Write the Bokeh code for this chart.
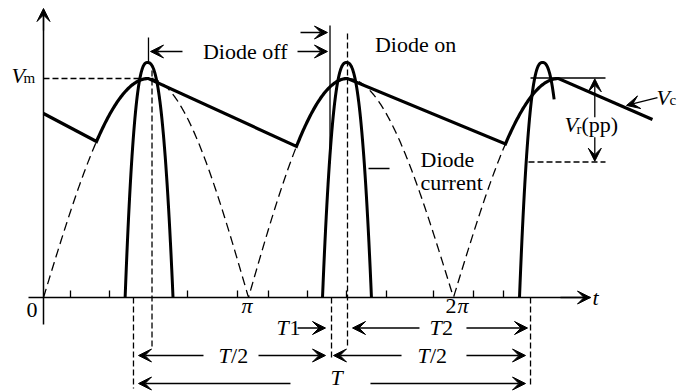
import numpy as np
from bokeh.plotting import figure
from bokeh.models import (Range1d, LinearAxis, FixedTicker, Arrow, VeeHead,
                          ColumnDataSource)
from bokeh.core.properties import value
from bokeh.embed import file_html
from bokeh.resources import INLINE

PI = np.pi

# ---- data (t in radians, v in units of Vm) ----
sine_zeros = [0.0, PI, 2 * PI, 3 * PI]          # rectified input zero crossings
sine_peaks = [1.609, 4.659, 7.893]              # rectified input peaks
Vm = 1.0

cap_start = [0.0, 0.840]                        # capacitor voltage at t=0
cap_trough_t = [0.812, 3.877, 7.080]            # diode turns on
cap_end = [9.333, 0.813]                        # last point of Vc
dashed_end_t = 7.080                            # dashed input drawn up to here

pulse_left = [1.251, 4.276, 7.295]              # diode current pulses
pulse_peak = [1.594, 4.644, 7.647]
pulse_right = [1.985, 5.026, 8.022]
pulse_height = 1.073
pulse_right_stop = [0.0, 0.0, 0.843]            # fraction where right flank stops

minor_ticks = [0.414, 1.011, 2.207, 2.973, 3.448, 4.046, 4.644, 5.257,
               5.977, 6.590, 7.050]

FONT = value("Liberation Serif")
BIG = 0.0365    # baseline correction for 22px text (data units)
SMALL = 0.025   # baseline correction for 15px text


def rect_sine(t):
    t = np.atleast_1d(np.asarray(t, dtype=float))
    out = np.zeros_like(t)
    for k in range(3):
        z0, pk, z1 = sine_zeros[k], sine_peaks[k], sine_zeros[k + 1]
        m = (t >= z0) & (t <= pk)
        out[m] = Vm * np.sin(np.pi / 2 * (t[m] - z0) / (pk - z0))
        m = (t > pk) & (t <= z1)
        out[m] = Vm * np.sin(np.pi / 2 * (z1 - t[m]) / (z1 - pk))
    return out


p = figure(width=677, height=391,
           x_range=Range1d(-0.6590, 9.7165), y_range=Range1d(-0.42922, 1.35616),
           toolbar_location=None, output_backend="svg",
           x_axis_location=None, y_axis_location=None,
           min_border=0, outline_line_color=None)
p.grid.visible = False
p.background_fill_color = "white"
p.border_fill_color = "white"

# ---- axes ----
xaxis = LinearAxis(fixed_location=0, bounds=(-0.230, 8.383),
                   ticker=FixedTicker(ticks=[], minor_ticks=minor_ticks),
                   axis_line_width=1.5, axis_line_color="black",
                   major_tick_in=0, major_tick_out=0,
                   minor_tick_in=7, minor_tick_out=0,
                   minor_tick_line_width=1.3, minor_tick_line_color="black",
                   major_label_text_font_size="0px")
p.add_layout(xaxis, "below")
yaxis = LinearAxis(fixed_location=0, bounds=(-0.123, 1.30),
                   ticker=FixedTicker(ticks=[], minor_ticks=[]),
                   axis_line_width=1.5, axis_line_color="black",
                   major_tick_in=0, major_tick_out=0,
                   minor_tick_in=0, minor_tick_out=0,
                   major_label_text_font_size="0px")
p.add_layout(yaxis, "left")

# ---- rectified input (dashed) ----
td = np.linspace(0, dashed_end_t, 600)
p.line(td, rect_sine(td), line_color="black", line_width=1.3, line_dash="9 5")

# ---- capacitor voltage ----
cx = [cap_start[0]]
cy = [cap_start[1]]
for k in range(3):
    ta = np.linspace(cap_trough_t[k], sine_peaks[k], 60)
    cx.extend(ta.tolist())
    cy.extend(rect_sine(ta).tolist())
cx.append(cap_end[0])
cy.append(cap_end[1])
p.line(cx, cy, line_color="black", line_width=3.2, line_join="miter")

# ---- diode current pulses ----
for k in range(3):
    ul = np.linspace(1, 0, 40)
    xl = pulse_peak[k] - ul * (pulse_peak[k] - pulse_left[k])
    yl = pulse_height * (1 - ul ** 2.5)
    umax = (1 - pulse_right_stop[k]) ** 0.4
    ur = np.linspace(0, umax, 40)
    xr = pulse_peak[k] + ur * (pulse_right[k] - pulse_peak[k])
    yr = pulse_height * (1 - ur ** 2.5)
    p.line(np.concatenate([xl, xr[1:]]), np.concatenate([yl, yr[1:]]),
           line_color="black", line_width=3)

# ---- thin solid segments ----
solid = ColumnDataSource(dict(
    x0=[1.609, 4.391, 7.464, 4.981],
    y0=[1.187, 1.242, 1.0023, 0.589],
    x1=[1.609, 4.391, 8.613, 5.303],
    y1=[1.073, 0.612, 1.0023, 0.589]))
p.segment("x0", "y0", "x1", "y1", source=solid, line_color="black", line_width=1.3)

# ---- thin dashed segments ----
dashed = ColumnDataSource(dict(
    x0=[1.663, 4.659, 1.379, 4.414, 7.464, 0.0, 7.433],
    y0=[1.037, 1.205, 0.0, 0.0, 0.0, 1.0, 0.6187],
    x1=[1.663, 4.659, 1.379, 4.414, 7.464, 1.686, 8.613],
    y1=[-0.233, -0.233, -0.4155, -0.274, -0.4018, 1.0, 0.6187]))
p.segment("x0", "y0", "x1", "y1", source=dashed, line_color="black",
          line_width=1.3, line_dash="6 3")

# ---- arrows ----
arr = ColumnDataSource(dict(
    xs=[3.893, 5.762, 6.482, 2.452, 3.295, 5.487, 6.482, 3.785, 5.011,
        2.130, 3.893, 3.939, 9.410, 8.449, 8.449, 7.923, 0.0],
    ys=[-0.1393, -0.1393, -0.1393, -0.2648, -0.2648, -0.2648, -0.2648,
        -0.3927, -0.3927, 1.1233, 1.1233, 1.210, 0.913, 0.823, 0.732, 0.0, 1.219],
    xe=[4.322, 4.736, 7.418, 1.456, 4.322, 4.444, 7.387, 1.456, 7.387,
        1.640, 4.352, 4.352, 8.935, 8.449, 8.449, 8.383, 0.0],
    ye=[-0.1393, -0.1393, -0.1393, -0.2648, -0.2648, -0.2648, -0.2648,
        -0.3927, -0.3927, 1.1233, 1.1233, 1.210, 0.877, 0.9986, 0.6224, 0.0, 1.3196]))
p.add_layout(Arrow(x_start="xs", y_start="ys", x_end="xe", y_end="ye", source=arr,
                   line_color="black", line_width=1.3,
                   end=VeeHead(size=13, fill_color="black", line_color="black",
                               line_width=1)))

# ---- texts ----
it_y = [0.9772, 0.7548, 0.8767, -0.0365, -0.0731, -0.0731, -0.1735, -0.1735,
        -0.3014, -0.3014]
italic = ColumnDataSource(dict(
    text=["V", "V", "V", "t", "π", "π", "T", "T", "T", "T", "T"],
    x=[-0.4904, 7.985, 9.395, 8.414, 3.034, 6.345, 3.571, 5.916, 2.682, 5.732, 4.398],
    y=[v + BIG for v in it_y] + [-0.3653]))
p.text("x", "y", text="text", source=italic, text_font=FONT, text_font_size="22px",
       text_font_style="italic", text_align="left", text_baseline="alphabetic",
       text_color="black")

up_y = [1.0868, 1.1187, 0.595, 0.4886, 0.7534, -0.0913, -0.0731, -0.1735, -0.1735,
        -0.3014, -0.3014]
upright = ColumnDataSource(dict(
    text=["Diode off", "Diode on", "Diode", "current", "(pp)", "0", "2",
          "1", "2", "/2", "/2"],
    x=[2.444, 5.080, 5.778, 5.778, 8.245, -0.261, 6.161, 3.770, 6.107, 2.874, 5.923],
    y=[v + BIG for v in up_y]))
p.text("x", "y", text="text", source=upright, text_font=FONT, text_font_size="22px",
       text_align="left", text_baseline="alphabetic", text_color="black")

sub_y = [0.9772, 0.744, 0.8767]
subs = ColumnDataSource(dict(
    text=["m", "r", "c"],
    x=[-0.3065, 8.169, 9.594],
    y=[v + SMALL for v in sub_y]))
p.text("x", "y", text="text", source=subs, text_font=FONT, text_font_size="15px",
       text_align="left", text_baseline="alphabetic", text_color="black")

open("out.html", "w").write(file_html(p, INLINE))
